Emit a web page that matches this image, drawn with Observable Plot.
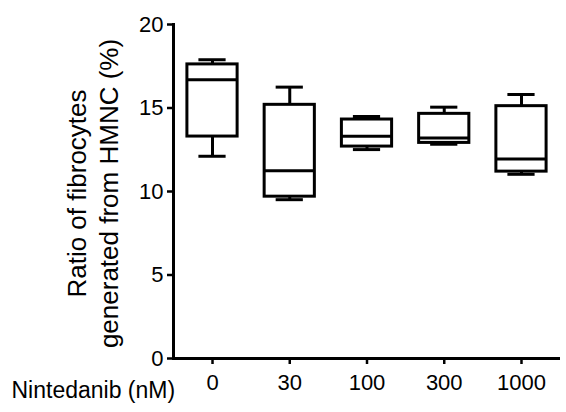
<!DOCTYPE html>
<html>
<head>
<meta charset="utf-8">
<script src="https://cdn.jsdelivr.net/npm/d3@7"></script>
<script src="https://cdn.jsdelivr.net/npm/@observablehq/plot@0.6"></script>
<style>
  html, body { margin: 0; padding: 0; background: #fff; }
</style>
</head>
<body>
<div id="chart"></div>
<script>
const categories = ["0", "30", "100", "300", "1000"];
const minVals    = [12.11,  9.51, 12.51, 12.83, 11.03];
const q1Vals     = [13.29,  9.69, 12.69, 12.91, 11.19];
const medianVals = [16.69, 11.25, 13.31, 13.21, 11.95];
const q3Vals     = [17.61, 15.19, 14.31, 14.65, 15.11];
const maxVals    = [17.89, 16.25, 14.49, 15.05, 15.81];
const yTicks = [0, 5, 10, 15, 20];

const data = categories.map((c, i) => ({
  cat: c, min: minVals[i], q1: q1Vals[i], med: medianVals[i], q3: q3Vals[i], max: maxVals[i]
}));

const font = "Liberation Sans, Arial, sans-serif";
const sw = 3;

const plot = Plot.plot({
  width: 566,
  height: 412,
  marginLeft: 173,
  marginRight: 6,
  marginTop: 24,
  marginBottom: 54,
  style: { fontFamily: font, fontSize: "22px", background: "#fff", color: "#000" },
  x: { domain: categories, type: "band", paddingInner: 0.35, paddingOuter: 0.18, round: false },
  y: { domain: [0, 20], ticks: yTicks },
  marks: [
    Plot.ruleX(data, { x: "cat", y1: "q3", y2: "max", stroke: "#000", strokeWidth: sw }),
    Plot.ruleX(data, { x: "cat", y1: "min", y2: "q1", stroke: "#000", strokeWidth: sw }),
    Plot.barY(data, { x: "cat", y1: "q1", y2: "q3", fill: "#fff", stroke: "#000", strokeWidth: sw }),
    Plot.tickY(data, { x: "cat", y: "med", stroke: "#000", strokeWidth: sw }),
    Plot.tickY(data, { x: "cat", y: "max", stroke: "#000", strokeWidth: sw, insetLeft: 11.5, insetRight: 11.5 }),
    Plot.tickY(data, { x: "cat", y: "min", stroke: "#000", strokeWidth: sw, insetLeft: 11.5, insetRight: 11.5 }),
    Plot.frame({ anchor: "left", stroke: "#000", strokeWidth: sw }),
    Plot.ruleY([0], { stroke: "#000", strokeWidth: sw }),
    Plot.axisY({ ticks: yTicks, tickSize: 6, tickPadding: 4, fontSize: 22, label: null, strokeWidth: 2.5 }),
    Plot.axisX({ tickSize: 6, tickPadding: 10, fontSize: 22, label: null, strokeWidth: 2.5 }),
    Plot.text(["Ratio of fibrocytes\ngenerated from HMNC (%)"], {
      frameAnchor: "left", rotate: -90, dx: -82, dy: 2, fontSize: 26, lineHeight: 1.25, lineAnchor: "middle", textAnchor: "middle", fill: "#000"
    }),
    Plot.text(["Nintedanib (nM)"], {
      frameAnchor: "bottom-left", dx: -162, dy: 32, fontSize: 23, textAnchor: "start", lineAnchor: "middle", fill: "#000"
    })
  ]
});
document.getElementById("chart").appendChild(plot);
</script>
</body>
</html>
